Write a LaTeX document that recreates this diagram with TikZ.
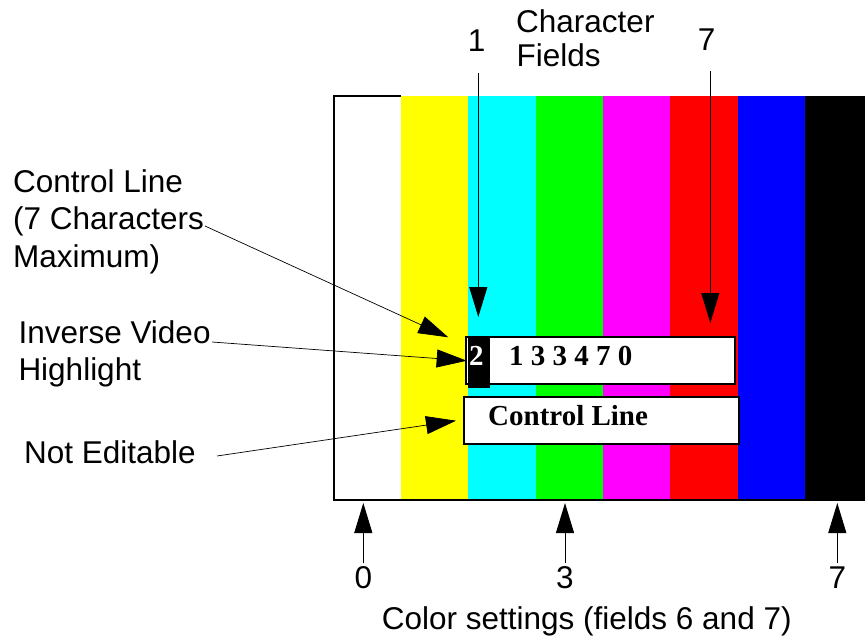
\documentclass[tikz,border=0pt]{standalone}
\usepackage{fontspec}
\setmainfont{Liberation Sans}
\newfontfamily\serifb{Liberation Serif}
\usetikzlibrary{arrows.meta}
\definecolor{barY}{RGB}{255,255,0}
\definecolor{barC}{RGB}{0,255,255}
\definecolor{barG}{RGB}{0,255,0}
\definecolor{barM}{RGB}{255,0,255}
\definecolor{barR}{RGB}{255,0,0}
\definecolor{barB}{RGB}{0,0,255}
\tikzset{
  lbl/.style={font=\fontsize{31.5}{37}\selectfont, inner sep=0pt, anchor=base west},
  num/.style={font=\fontsize{31.5}{37}\selectfont, inner sep=0pt, anchor=base},
  boxtxt/.style={font=\serifb\bfseries\fontsize{29}{34}\selectfont, inner sep=0pt, anchor=base west},
  fieldbox/.style={draw=black, fill=white, line width=1.8pt, inner sep=0pt, minimum height=47.6pt},
  ptr/.style={-{Triangle[length=30pt,width=18pt]}, line width=1pt},
  lead/.style={-{Triangle[length=30pt,width=18pt]}, line width=0.7pt}
}
\begin{document}
\begin{tikzpicture}[x=1pt,y=-1pt]
\useasboundingbox (0,0) rectangle (865,637);
% colour bars
\foreach \c [count=\i from 0] in {barY,barC,barG,barM,barR,barB}
  \fill[\c] ({401+67.3*\i},96) rectangle ({401+67.3*(\i+1)},500);
\fill[black] (804.8,96) rectangle (865,500);
\draw[line width=1.3pt] (401,96) -- (334,96) -- (334,500) -- (865,500);

% control line boxes
\node[fieldbox, minimum width=269.3pt] (numbox) at (600.35,360.5) {};
\node[fill=black, inner sep=0pt, minimum width=22pt, minimum height=51pt] (hl) at (479,362.5) {};
\node[boxtxt, text=white] (two) at (469,365) {2};
\node[boxtxt] (digits) at (509,365) {1 3 3 4 7 0};
\node[fieldbox, minimum width=275pt] (ctlbox) at (601.5,420.5) {};
\node[boxtxt] (ctltxt) at (488,425.7) {Control Line};

% top labels
\node[num] (one) at (476.7,51.7) {1};
\node[num] (seven) at (706.7,50.7) {7};
\node[lbl] (chr1) at (516,32.3) {Character};
\node[lbl] (chr2) at (516.5,66.7) {Fields};

% left labels
\node[lbl] (cl1) at (13,192.7) {Control Line};
\node[lbl] (cl2) at (13,229.5) {(7 Characters};
\node[lbl] (cl3) at (13,267.3) {Maximum)};
\node[lbl] (iv1) at (18.3,343.3) {Inverse Video};
\node[lbl] (iv2) at (18.3,380) {Highlight};
\node[lbl] (ne) at (24,463.3) {Not Editable};

% bottom labels
\node[num] (b0) at (363.3,588.5) {0};
\node[num] (b3) at (565,588.5) {3};
\node[num] (b7) at (837.3,588.5) {7};
\node[lbl] (cs) at (381.7,629.3) {Color settings (fields 6 and 7)};

% connector ends
\coordinate (s1) at (478.3,73);   \coordinate (t1) at (478.3,317);
\coordinate (s7) at (710.3,71);   \coordinate (t7) at (710.3,323);
\coordinate (sc) at (205,226);    \coordinate (tc) at (448.3,337.3);
\coordinate (si) at (212,342);    \coordinate (ti) at (466.7,360.7);
\coordinate (sn) at (217,456);    \coordinate (tn) at (456,420.7);
\coordinate (s0) at (363.3,563);  \coordinate (t0) at (363.3,503);
\coordinate (s3) at (565,563);    \coordinate (t3) at (565,503);
\coordinate (s7b) at (837.3,563); \coordinate (t7b) at (837.3,503);

\draw[ptr] (s1) -- (t1);
\draw[ptr] (s7) -- (t7);
\draw[lead] (sc) -- (tc);
\draw[lead] (si) -- (ti);
\draw[lead] (sn) -- (tn);
\draw[ptr] (s0) -- (t0);
\draw[ptr] (s3) -- (t3);
\draw[ptr] (s7b) -- (t7b);
\end{tikzpicture}
\end{document}
